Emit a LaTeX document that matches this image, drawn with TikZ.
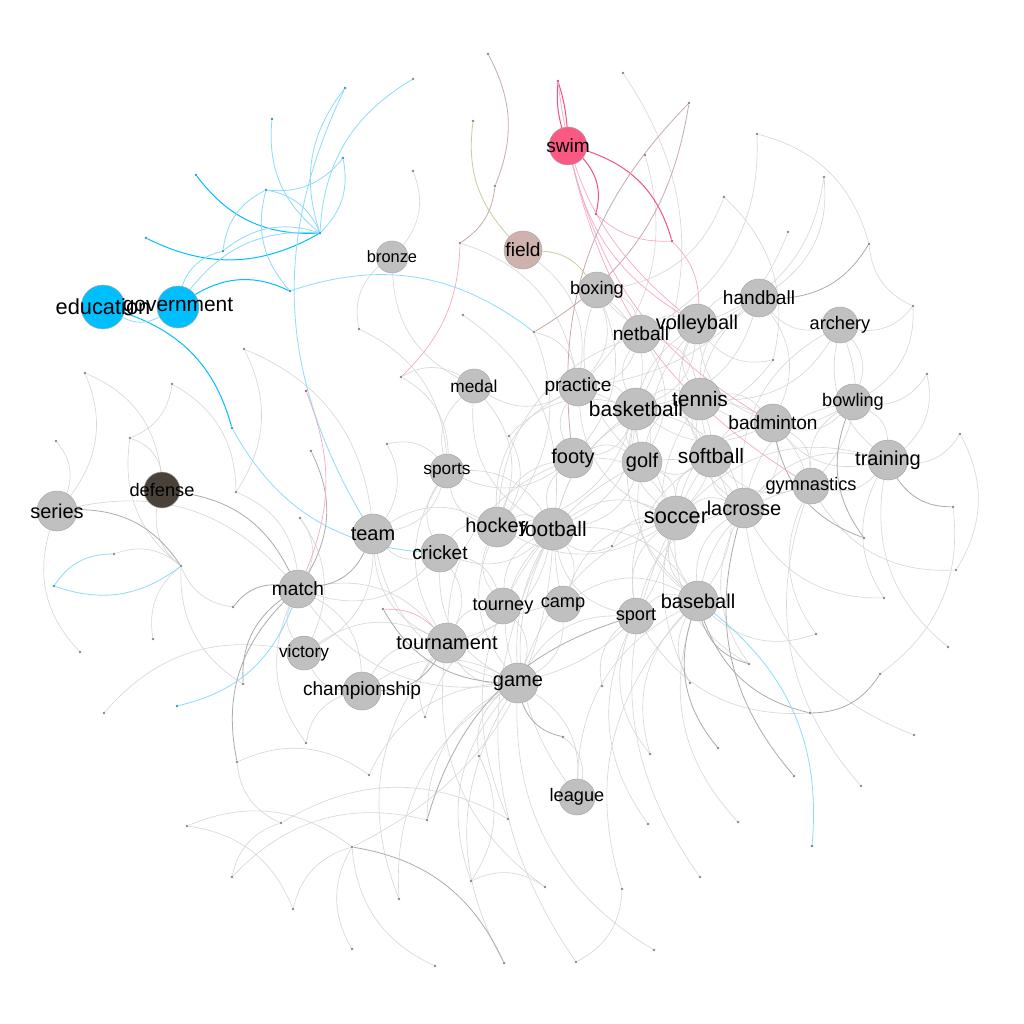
\documentclass[tikz,border=0pt]{standalone}
\usepackage{fontspec}
\setmainfont{Liberation Sans}
\usetikzlibrary{backgrounds}
\definecolor{hubgray}{RGB}{192,192,192}
\definecolor{hubline}{RGB}{168,168,168}
\definecolor{skyb}{RGB}{0,191,255}
\definecolor{swimc}{RGB}{252,88,132}
\definecolor{fieldc}{RGB}{208,178,172}
\definecolor{defc}{RGB}{74,66,58}
\definecolor{edgelt}{RGB}{214,214,214}
\definecolor{edgedk}{RGB}{172,172,172}
\definecolor{edgebl}{RGB}{0,191,255}
\definecolor{edgebll}{RGB}{140,220,250}
\definecolor{edgepk}{RGB}{245,80,125}
\definecolor{edgepkl}{RGB}{245,170,195}
\definecolor{edgegr}{RGB}{195,210,150}
\definecolor{edgebr}{RGB}{200,170,170}
\definecolor{dotc}{RGB}{135,135,135}
\definecolor{dotb}{RGB}{50,150,190}
\definecolor{dotp}{RGB}{190,90,120}
\tikzset{
 hub/.style={circle, draw=hubline, line width=0.5pt, inner sep=0pt},
 dotn/.style={circle, fill=dotc, inner sep=0pt, minimum size=2.8pt},
 lab/.style={text=black, inner sep=0pt},
 eg/.style={draw=edgelt, line width=0.6pt},
 egd/.style={draw=edgedk, line width=0.8pt},
 ebs/.style={draw=edgebl, line width=1pt},
 ebl/.style={draw=edgebll, line width=0.8pt},
 eps/.style={draw=edgepk, line width=1pt},
 epk/.style={draw=edgepkl, line width=0.7pt},
 egr/.style={draw=edgegr, line width=0.8pt},
 ebr/.style={draw=edgebr, line width=0.8pt},
}
\def\hubs{education/103/307/44/skyb, government/178/307/42/skyb, swim/568/146/38/swimc, field/523/250/38/fieldc, defense/162/490/36/defc, bronze/392/257/32/hubgray, boxing/597/290/36/hubgray, netball/641/334/38/hubgray, volleyball/697/324/40/hubgray, handball/759/298/38/hubgray, archery/840/325/36/hubgray, medal/474/386/34/hubgray, practice/578/387/38/hubgray, basketball/636/409/42/hubgray, tennis/700/399/42/hubgray, badminton/773/423/38/hubgray, bowling/853/402/36/hubgray, training/888/460/40/hubgray, gymnastics/811/486/36/hubgray, softball/711/456/42/hubgray, golf/642/462/40/hubgray, footy/573/458/40/hubgray, sports/447/471/34/hubgray, lacrosse/744/508/40/hubgray, soccer/676/518/44/hubgray, football/553/529/42/hubgray, hockey/497/527/40/hubgray, team/373/534/40/hubgray, cricket/440/553/38/hubgray, series/57/511/40/hubgray, match/298/589/38/hubgray, tourney/503/606/36/hubgray, camp/563/604/36/hubgray, sport/636/616/36/hubgray, baseball/698/601/40/hubgray, tournament/447/643/40/hubgray, victory/304/653/34/hubgray, championship/362/691/38/hubgray, game/518/683/40/hubgray, league/577/797/36/hubgray}
\begin{document}
\begin{tikzpicture}[x=1pt,y=-1pt]
\useasboundingbox (0,0) rectangle (1024,1024);
% hubs
\foreach \n/\x/\y/\d/\c in \hubs {\node[hub, fill=\c, minimum size=\d pt] (\n) at (\x,\y) {};}
% gray dots
\foreach \n/\x/\y in {d10/413/79, d11/488/54, d13/623/73, d14/689/103, d15/473/121, d16/413/171, d17/495/186, d18/645/155, d19/757/134, d20/724/197, d23/788/232, d24/824/177, d25/869/244, d26/913/306, d27/460/243, d28/463/315, d29/534/332, d30/773/360, d31/927/374, d32/960/434, d33/953/507, d34/864/538, d35/956/570, d36/884/598, d37/816/634, d38/948/647, d39/880/674, d40/749/664, d41/690/683, d42/810/713, d43/914/735, d44/718/748, d45/650/754, d46/794/776, d47/861/786, d48/648/824, d49/738/822, d51/700/877, d52/622/889, d53/654/950, d54/576/962, d55/504/963, d56/435/966, d57/352/949, d58/399/899, d59/293/909, d60/232/877, d61/187/826, d62/281/823, d63/352/847, d64/427/820, d65/508/819, d66/471/881, d67/545/887, d68/237/762, d69/306/743, d70/369/775, d71/425/717, d72/479/756, d73/563/737, d74/602/686, d75/104/713, d77/80/652, d78/153/639, d79/243/684, d80/233/607, d81/383/609, d83/114/554, d84/181/566, d85/236/492, d86/300/518, d87/311/451, d88/387/444, d91/172/384, d92/56/441, d93/130/438, d94/85/373, d95/244/349, d96/359/329, d97/401/377, d98/509/436, d99/612/546}
  {\node[dotn] (\n) at (\x,\y) {};}
% blue dots
\foreach \n/\x/\y in {d1/345/88, d2/272/119, d3/343/158, d4/196/175, d5/266/190, d6/320/233, d7/223/251, d8/146/238, d9/290/291, d50/812/846, d76/177/706, d82/54/586, d89/232/428}
  {\node[dotn, fill=dotb] (\n) at (\x,\y) {};}
% pink dots
\foreach \n/\x/\y in {d12/558/81, d21/596/214, d22/672/241, d90/306/391}
  {\node[dotn, fill=dotp] (\n) at (\x,\y) {};}
% labels on top
\foreach \n/\x/\y/\d/\c in \hubs {\pgfmathsetmacro\fs{0.45*\d+2}\node[lab, font=\fontsize{\fs pt}{\fs pt}\selectfont] (\n-l) at (\x,\y) {\n};}

\begin{pgfonlayer}{background}
\fill[white] (0,0) rectangle (1024,1024);
% light gray hub-hub
\foreach \p/\q in {basketball/tennis, volleyball/basketball, basketball/netball, golf/basketball, basketball/footy, soccer/basketball, basketball/softball, practice/basketball, basketball/football, badminton/basketball, basketball/hockey, baseball/basketball, basketball/lacrosse, boxing/basketball, handball/basketball, tennis/volleyball, softball/tennis, tennis/badminton, golf/tennis, tennis/soccer, bowling/tennis, tennis/handball, archery/tennis, tennis/gymnastics, lacrosse/tennis, softball/golf, soccer/softball, softball/baseball, lacrosse/softball, softball/volleyball, gymnastics/softball, softball/badminton, golf/soccer, footy/golf, golf/football, baseball/golf, golf/lacrosse, football/soccer, soccer/hockey, baseball/soccer, soccer/lacrosse, footy/soccer, soccer/game, sport/soccer, soccer/training, hockey/football, football/footy, game/football, football/camp, tourney/football, football/cricket, sports/football, football/baseball, league/football, football/tournament, cricket/hockey, hockey/sports, team/hockey, hockey/footy, game/hockey, cricket/team, tournament/team, team/victory, victory/match, match/championship, series/match, match/tournament, game/match, game/tournament, championship/tournament, tournament/tourney, victory/tournament, game/league, camp/game, championship/game, game/sport, sport/baseball, baseball/lacrosse, league/baseball, netball/volleyball, volleyball/handball, badminton/volleyball, volleyball/boxing, bowling/badminton, badminton/gymnastics, training/badminton, badminton/lacrosse, archery/bowling, bowling/training, gymnastics/bowling, training/gymnastics, lacrosse/training, boxing/netball, netball/practice, footy/practice, practice/medal, boxing/practice, medal/bronze, sports/medal, cricket/sports, sports/team, lacrosse/gymnastics, archery/handball, handball/badminton, archery/gymnastics, training/archery, netball/tennis, netball/golf, practice/golf, footy/sports, cricket/tourney, camp/baseball, sport/lacrosse, tourney/game, championship/victory, cricket/tournament, medal/hockey, boxing/footy, field/practice}
  {\draw[eg] (\p) to[bend left=30] (\q);}
% second family of hub-hub arcs
\foreach \p/\q in {tennis/football, volleyball/soccer, netball/hockey, handball/softball, archery/lacrosse, practice/soccer, basketball/camp, golf/game, softball/sport, tennis/baseball, footy/tournament, hockey/tourney, cricket/game, sports/tournament, badminton/soccer, bowling/lacrosse, gymnastics/baseball, volleyball/golf, boxing/golf, practice/hockey, football/sport, soccer/camp, lacrosse/game, team/game, match/cricket, medal/football}
  {\draw[eg] (\p) to[bend right=32] (\q);}
% light gray dot edges
\foreach \p/\q in {d13/basketball, d18/practice, d19/netball, d19/d25, d24/volleyball, d20/boxing, d23/practice, d26/archery, d26/d25, d26/bowling, d30/basketball, d30/volleyball, d31/bowling, d32/training, d32/d35, d33/d39, d35/gymnastics, d36/training, d36/lacrosse, d37/gymnastics, d37/baseball, d38/training, d40/lacrosse, d40/soccer, d41/baseball, d41/softball, d42/sport, d43/lacrosse, d45/baseball, d47/gymnastics, d48/sport, d49/baseball, d51/soccer, d52/baseball, d53/game, d54/football, d56/d63, d57/d63, d59/d63, d60/d64, d61/d59, d61/d63, d62/d65, d65/football, d66/d67, d66/game, d67/tournament, d68/d70, d69/championship, d70/game, d71/tournament, d72/game, d73/league, d74/sport, d75/victory, d77/series, d78/d84, d79/d84, d80/d84, d83/d84, d84/defense, d84/d93, d85/match, d86/match, d86/victory, d88/sports, d88/team, d91/d93, d91/d85, d92/series, d93/defense, d94/defense, d95/team, d96/sports, d96/bronze, d97/sports, d97/medal, d98/hockey, d98/basketball, d99/soccer, d99/football, d27/practice, d28/football, d29/practice, d29/hockey, d16/bronze, d58/game, d55/game, d64/game, d62/d68, d58/tournament, d60/d62, d94/series, d95/d85, d72/d66, d69/match, d71/camp, d45/sport, d52/d54, d20/d30, d24/handball, d31/training, football/d63}
  {\draw[eg] (\p) to[bend left=30] (\q);}
% darker gray
\foreach \p/\q in {series/d84, d80/match, d87/match, d68/match, d44/baseball, d46/lacrosse, d64/sport, d63/d55, d25/handball, d34/badminton, d40/baseball, d73/game, d33/training, d39/d42, defense/match, team/match, d79/match, d42/baseball, d34/bowling, tournament/championship, game/d81}
  {\draw[egd] (\p) to[bend left=28] (\q);}
% blue
\foreach \p/\q in {government/d9, d6/d4, education/d89, d6/d8}
  {\draw[ebs] (\p) to[bend left=28] (\q);}
\foreach \p/\q in {government/education, government/d6, d3/d6, d3/d5, d5/d6, d7/d5, d9/d5, d7/d6, d6/d1, d6/d2, d9/d29, team/d1, d84/d82, d82/d83, match/d76, baseball/d50, cricket/d89, government/d7, d6/d10}
  {\draw[ebl] (\p) to[bend left=28] (\q);}
% pink
\draw[eps] (swim) to[bend left=10] (d12);
\draw[eps] (swim) to[bend right=6] (d12);
\foreach \p/\q in {swim/d22, swim/d21}
  {\draw[eps] (\p) to[bend left=28] (\q);}
\foreach \p/\q in {d22/d21, volleyball/d12, d22/volleyball, volleyball/swim, badminton/swim, gymnastics/swim, d90/match, d27/d97, d81/tournament}
  {\draw[epk] (\p) to[bend left=22] (\q);}
% brown and green
\foreach \p/\q in {d11/d17, d17/d27, footy/d14, d14/d29}
  {\draw[ebr] (\p) to[bend left=25] (\q);}
\foreach \p/\q in {field/d15, field/boxing}
  {\draw[egr] (\p) to[bend left=25] (\q);}
\end{pgfonlayer}
\end{tikzpicture}
\end{document}
